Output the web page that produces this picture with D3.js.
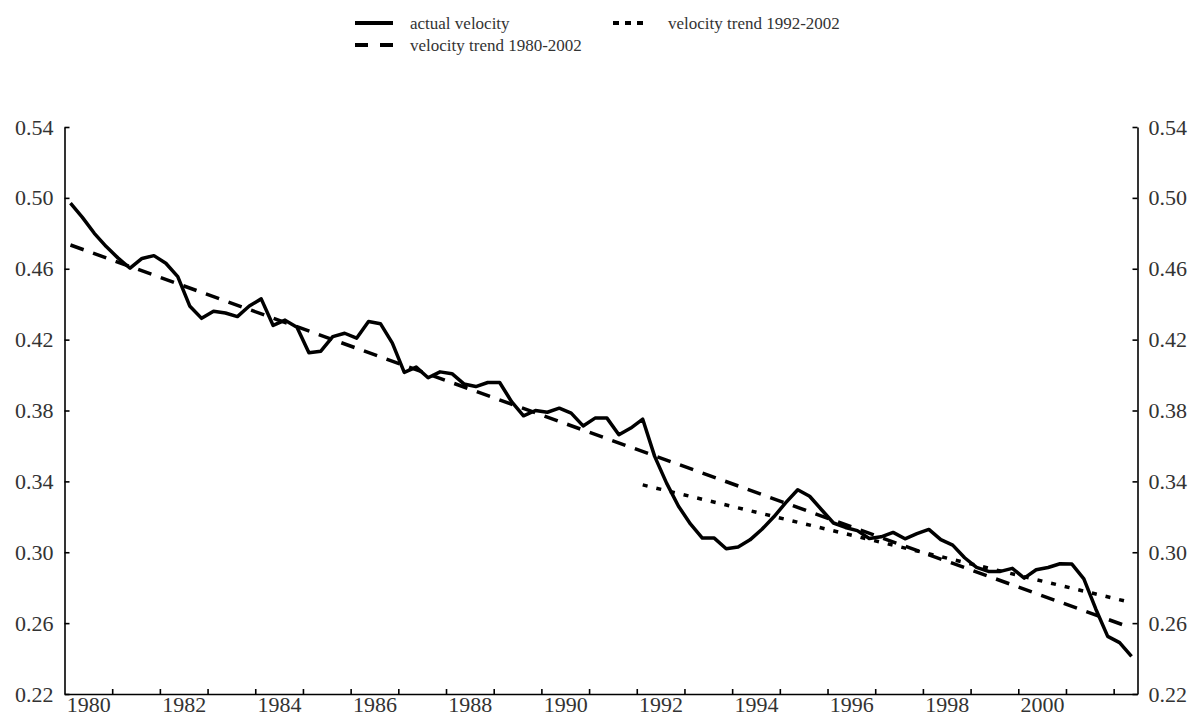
<!DOCTYPE html>
<html>
<head>
<meta charset="utf-8">
<script src="https://cdn.jsdelivr.net/npm/d3@7"></script>
<style>
  html, body { margin: 0; padding: 0; background: #fff; }
  .svg-container svg { display: block; }
  text { font-family: "Liberation Serif", "Times New Roman", serif; fill: #333; }
</style>
</head>
<body>
<div class="svg-container"></div>
<script>
// quarterly velocity, first point is 1980 Q1
var firstYear = 1980;
var velocityValues = [
  0.497, 0.489, 0.480, 0.4725,
  0.466, 0.4603, 0.4658, 0.4674,
  0.4631, 0.4556, 0.439, 0.432,
  0.436, 0.435, 0.433, 0.439,
  0.443, 0.428, 0.431, 0.427,
  0.4126, 0.4135, 0.4217, 0.4236,
  0.4208, 0.4302, 0.429, 0.418,
  0.4015, 0.4045, 0.3985, 0.4018,
  0.4008, 0.395, 0.3935, 0.3958,
  0.3958, 0.385, 0.377, 0.380,
  0.379, 0.3813, 0.3785, 0.3713,
  0.3757, 0.3757, 0.3663, 0.3701,
  0.3751, 0.3541, 0.339, 0.326,
  0.316, 0.308, 0.308, 0.302,
  0.303, 0.307, 0.313, 0.320,
  0.328, 0.3353, 0.3316, 0.324,
  0.3165, 0.314, 0.3122, 0.3078,
  0.3087, 0.3112, 0.3076, 0.3105,
  0.3129, 0.3071, 0.304, 0.2969,
  0.2915, 0.2892, 0.2892, 0.2909,
  0.2854, 0.2901, 0.2914, 0.2935,
  0.2933, 0.285, 0.268, 0.2525,
  0.249, 0.2412
];
// trend lines, end points only
var trendLongDates = [1980.125, 2002.375];
var trendLongValues = [0.4734, 0.2573];
var trendShortDates = [1992.125, 2002.375];
var trendShortValues = [0.338, 0.2716];

var yearLabels = [1980, 1982, 1984, 1986, 1988, 1990, 1992, 1994, 1996, 1998, 2000];
var yearTicks = [1981, 1982, 1983, 1984, 1985, 1986, 1987, 1988, 1989, 1990, 1991,
  1992, 1993, 1994, 1995, 1996, 1997, 1998, 1999, 2000, 2001, 2002];
var valueTicks = [0.22, 0.26, 0.30, 0.34, 0.38, 0.42, 0.46, 0.50, 0.54];
var legendLabels = ['actual velocity', 'velocity trend 1980-2002', 'velocity trend 1992-2002'];

document.addEventListener('DOMContentLoaded', function(event) {
  velocityChart.makeBoard();
  velocityChart.drawAxes();
  velocityChart.drawLines();
  velocityChart.drawLegend();
});

let velocityChart = {
  main: null,
  mainSelect: '.svg-container',
  width: 1193,
  height: 717,
  plot: { left: 64.5, right: 1137.5, top: 127, bottom: 694 },
  lineWidth: 3.5,
  dashes: { long: '14,10', short: '5,9' },
  makeBoard(){
    d3.select(velocityChart.mainSelect).selectAll('svg').remove();
    velocityChart.main = d3.select(velocityChart.mainSelect)
    .append('svg')
    .attr('width', velocityChart.width)
    .attr('height', velocityChart.height);
    var p = velocityChart.plot;
    velocityChart.x = d3.scaleLinear().domain([1980, 2002.5]).range([p.left, p.right]);
    velocityChart.y = d3.scaleLinear().domain([0.22, 0.54]).range([p.bottom, p.top]);
  },
  styleAxis(g){
    g.select('.domain').attr('stroke', '#000').attr('stroke-width', 1.6);
    g.selectAll('.tick line').attr('stroke', '#000').attr('stroke-width', 1.6);
    g.selectAll('text').attr('font-size', 22).attr('fill', '#333')
    .attr('font-family', '"Liberation Serif", serif');
  },
  drawAxes(){
    var x = velocityChart.x, y = velocityChart.y, p = velocityChart.plot;
    var svg = velocityChart.main;

    // bottom: ticks at year boundaries, labels mid-year
    svg.append('g')
    .attr('transform', 'translate(0,' + p.bottom + ')')
    .call(d3.axisBottom(x).tickValues(yearTicks).tickSize(-5).tickSizeOuter(0).tickFormat(''))
    .call(velocityChart.styleAxis);
    svg.append('g')
    .attr('transform', 'translate(0,' + p.bottom + ')')
    .call(d3.axisBottom(x).tickValues(yearLabels.map(function(d){ return d + 0.5; }))
      .tickSize(0).tickPadding(2).tickFormat(function(d){ return String(d - 0.5); }))
    .call(function(g){ g.select('.domain').remove(); g.selectAll('line').remove(); })
    .call(velocityChart.styleAxis);

    var fmt = d3.format('.2f');
    svg.append('g')
    .attr('transform', 'translate(' + p.left + ',0)')
    .call(d3.axisLeft(y).tickValues(valueTicks).tickSize(-5).tickSizeOuter(0).tickPadding(11).tickFormat(fmt))
    .call(velocityChart.styleAxis);
    svg.append('g')
    .attr('transform', 'translate(' + p.right + ',0)')
    .call(d3.axisRight(y).tickValues(valueTicks).tickSize(-5).tickSizeOuter(0).tickPadding(11).tickFormat(fmt))
    .call(velocityChart.styleAxis);
  },
  drawLines(){
    var x = velocityChart.x, y = velocityChart.y;
    var svg = velocityChart.main;
    var line = d3.line().x(function(d){ return x(d[0]); }).y(function(d){ return y(d[1]); });

    var actual = velocityValues.map(function(v, i){ return [firstYear + (i + 0.5) / 4, v]; });
    var trendLong = trendLongDates.map(function(t, i){ return [t, trendLongValues[i]]; });
    var trendShort = trendShortDates.map(function(t, i){ return [t, trendShortValues[i]]; });

    svg.append('path').datum(trendLong)
    .attr('d', line)
    .attr('fill', 'none').attr('stroke', '#000')
    .attr('stroke-width', velocityChart.lineWidth)
    .attr('stroke-dasharray', velocityChart.dashes.long);
    svg.append('path').datum(trendShort)
    .attr('d', line)
    .attr('fill', 'none').attr('stroke', '#000')
    .attr('stroke-width', velocityChart.lineWidth)
    .attr('stroke-dasharray', velocityChart.dashes.short);
    svg.append('path').datum(actual)
    .attr('d', line)
    .attr('fill', 'none').attr('stroke', '#000')
    .attr('stroke-width', velocityChart.lineWidth)
    .attr('stroke-linejoin', 'round');
  },
  drawLegend(){
    var svg = velocityChart.main;
    var items = [
      { x: 355, y: 23, len: 38, dash: null, label: legendLabels[0] },
      { x: 355, y: 45, len: 38, dash: '13,12', label: legendLabels[1] },
      { x: 613, y: 23, len: 30, dash: '6,6', label: legendLabels[2] }
    ];
    var g = svg.append('g').classed('legend', true);
    items.forEach(function(it){
      g.append('line')
      .attr('x1', it.x).attr('x2', it.x + it.len)
      .attr('y1', it.y).attr('y2', it.y)
      .attr('stroke', '#000').attr('stroke-width', 4)
      .attr('stroke-dasharray', it.dash);
      g.append('text')
      .attr('x', it.x + 55)
      .attr('y', it.y + 6)
      .attr('font-size', 17)
      .text(it.label);
    });
  }
};
</script>
</body>
</html>
